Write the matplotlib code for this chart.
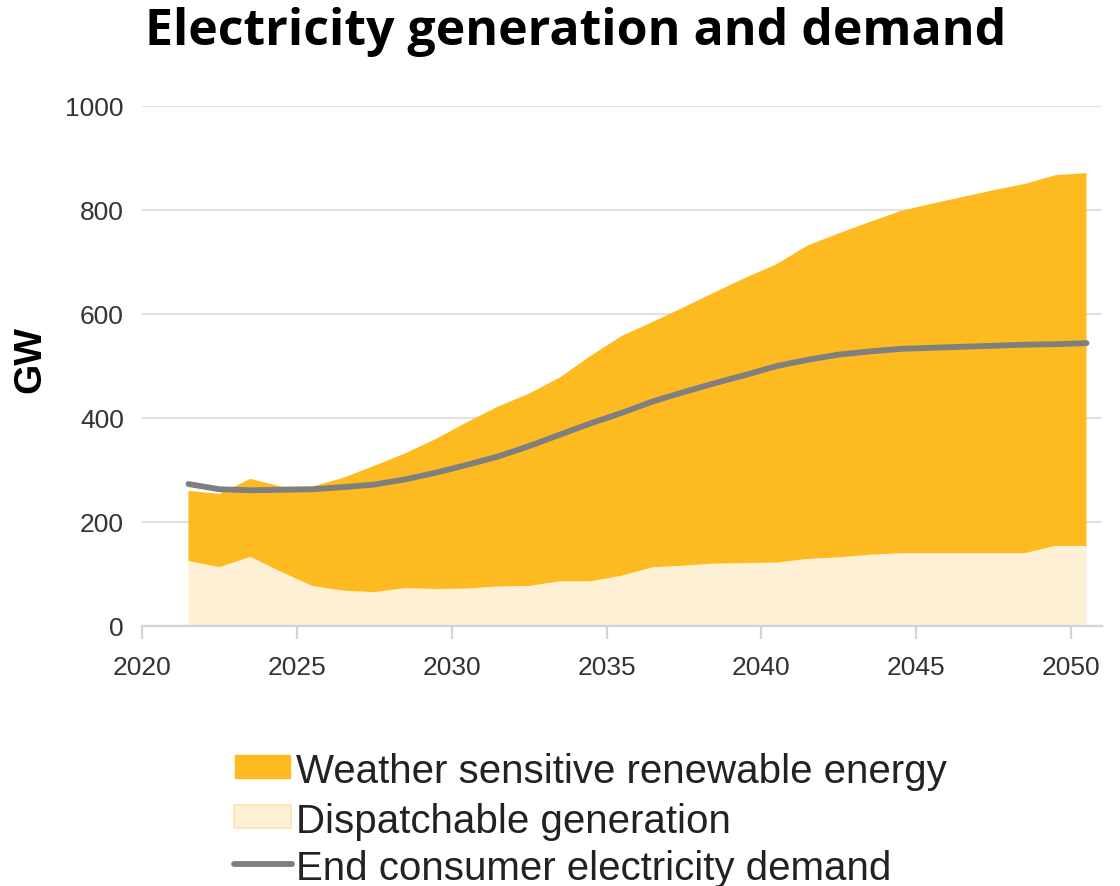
import numpy as np
import matplotlib
matplotlib.use("Agg")
import matplotlib.pyplot as plt
from matplotlib.patches import Rectangle
from matplotlib.lines import Line2D
from matplotlib import font_manager

# ---- data (GW), yearly values, plotted at mid-year ----
years = list(range(2021, 2051))
total_generation = [260, 254, 283, 268, 268, 285, 308, 332, 360, 392,
                    422, 447, 478, 520, 558, 585, 613, 642, 670, 696,
                    732, 755, 777, 798, 812, 825, 838, 850, 867, 871]
dispatchable = [125, 113, 133, 104, 77, 68, 65, 73, 71, 72,
                76, 77, 86, 86, 97, 113, 116, 120, 121, 122,
                129, 132, 137, 140, 140, 140, 140, 140, 154, 154]
demand = [273, 263, 261, 262, 263, 267, 272, 282, 295, 310,
          326, 346, 368, 390, 410, 432, 450, 467, 483, 500,
          512, 522, 528, 533, 535, 537, 539, 541, 542, 544]
renewable = [t - d for t, d in zip(total_generation, dispatchable)]

xticks = [2020, 2025, 2030, 2035, 2040, 2045, 2050]
yticks = [0, 200, 400, 600, 800, 1000]

title = "Electricity generation and demand"
ylabel = "GW"
labels = ["Weather sensitive renewable energy", "Dispatchable generation",
          "End consumer electricity demand"]

c_ren = "#FDBB21"
c_disp = "#FEF0D4"
c_line = "#7F7F7F"

plt.rcParams['font.family'] = ['Liberation Sans', 'DejaVu Sans']

names = {f.name for f in font_manager.fontManager.ttflist}
if 'Liberation Sans Narrow' in names:
    tick_family, tick_size = 'Liberation Sans Narrow', 23
else:
    tick_family, tick_size = 'Liberation Sans', 19

W, H = 1120, 887
fig = plt.figure(figsize=(W / 100, H / 100), dpi=100)
ax = fig.add_axes([142 / W, 1 - 627 / H, (1102 - 142) / W, (627 - 107) / H])

x = np.array(years) + 0.5
ax.stackplot(x, dispatchable, renewable, colors=[c_disp, c_ren], linewidth=0, zorder=2)
ax.plot(x, demand, color=c_line, lw=4.2, solid_capstyle='round', zorder=3)

ax.set_xlim(2020, 2051)
ax.set_ylim(0, 1000)
ax.set_xticks(xticks)
ax.set_yticks(yticks)
ax.yaxis.grid(True, color="#E2E2E2", lw=1.6, zorder=0)
ax.set_axisbelow(True)
for s in ["top", "right", "left"]:
    ax.spines[s].set_visible(False)
ax.spines["bottom"].set_color("#D4D4D4")
ax.spines["bottom"].set_linewidth(1.6)
ax.tick_params(axis='x', length=9, width=1.6, color="#D4D4D4",
               labelcolor="#333333", pad=12)
ax.tick_params(axis='y', length=0, labelcolor="#333333", pad=13)
for lab in ax.get_xticklabels() + ax.get_yticklabels():
    lab.set_family(tick_family)
    lab.set_fontsize(tick_size)

fig.text(30 / W, 1 - 360 / H, ylabel, rotation=90, ha='center', va='center',
         fontsize=28, fontweight='bold')

fig.text(576 / W, 1 - 32 / H, title, ha='center', va='center',
         fontsize=36, fontweight='bold', family=['Open Sans', 'DejaVu Sans'])

# legend, drawn manually in figure pixels
rows_y = [768, 818, 865]
for i, (lab, yy) in enumerate(zip(labels, rows_y)):
    if i == 0:
        fig.patches.append(Rectangle((235 / W, 1 - (yy + 11) / H), 55 / W, 23 / H,
                                     transform=fig.transFigure, facecolor=c_ren,
                                     edgecolor=c_ren, lw=1))
    elif i == 1:
        fig.patches.append(Rectangle((234 / W, 1 - (yy + 11) / H), 57 / W, 23 / H,
                                     transform=fig.transFigure, facecolor=c_disp,
                                     edgecolor="#FCE3B0", lw=1.2))
    else:
        fig.lines.append(Line2D([234 / W, 292 / W], [1 - yy / H, 1 - yy / H],
                                transform=fig.transFigure, color=c_line, lw=4.2,
                                solid_capstyle='round'))
    fig.text(296 / W, 1 - yy / H, lab, ha='left', va='center_baseline',
             fontsize=29, color="#222222")

fig.savefig("out.png", dpi=100)
